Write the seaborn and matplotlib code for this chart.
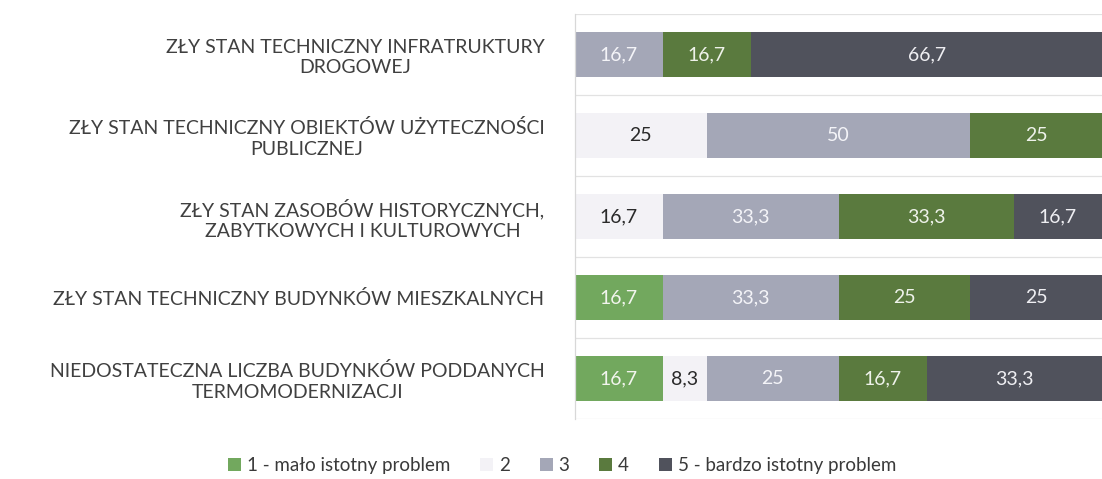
import numpy as np
import pandas as pd
import matplotlib
matplotlib.use("Agg")
import matplotlib.pyplot as plt
import seaborn as sns
from matplotlib.patches import Patch

categories = [
    "ZŁY STAN TECHNICZNY INFRATRUKTURY\nDROGOWEJ",
    "ZŁY STAN TECHNICZNY OBIEKTÓW UŻYTECZNOŚCI\nPUBLICZNEJ",
    "ZŁY STAN ZASOBÓW HISTORYCZNYCH,\nZABYTKOWYCH I KULTUROWYCH",
    "ZŁY STAN TECHNICZNY BUDYNKÓW MIESZKALNYCH",
    "NIEDOSTATECZNA LICZBA BUDYNKÓW PODDANYCH\nTERMOMODERNIZACJI",
]
series_names = ["1 - mało istotny problem", "2", "3", "4", "5 - bardzo istotny problem"]
s1 = [0, 0, 0, 16.7, 16.7]
s2 = [0, 25, 16.7, 0, 8.3]
s3 = [16.7, 50, 33.3, 33.3, 25]
s4 = [16.7, 25, 33.3, 25, 16.7]
s5 = [66.7, 0, 16.7, 25, 33.3]
series = [s1, s2, s3, s4, s5]

colors = ["#72a85e", "#f3f2f6", "#a4a7b7", "#5a7a3e", "#50525c"]
label_colors = ["#f2f5ee", "#2a2a2a", "#f4f4f8", "#eef2ea", "#eeeef2"]

sns.set_theme(style="white")
plt.rcParams["font.family"] = ["Lato", "DejaVu Sans"]

fig = plt.figure(figsize=(11.02, 4.79), dpi=100)
ax = fig.add_axes([0.5218, 0.1253, 0.4782, 0.8455])

data = np.array(series)
cum = np.cumsum(data, axis=0)
df = pd.DataFrame({"cat": categories})

# stacked bars: draw cumulative totals from the last series to the first
for i in range(len(series) - 1, -1, -1):
    df["val"] = cum[i]
    sns.barplot(data=df, x="val", y="cat", orient="h", color=colors[i],
                width=0.56, ax=ax, saturation=1, linewidth=0)

# value labels
for i, vals in enumerate(series):
    for j, v in enumerate(vals):
        if v <= 0:
            continue
        start = cum[i][j] - v
        txt = f"{v:g}".replace(".", ",")
        ax.text(start + v / 2, j, txt, ha="center", va="center",
                fontsize=14, color=label_colors[i])

ax.set_xlim(0, 100)
ax.set_ylim(4.5, -0.5)
ax.set_xlabel("")
ax.set_ylabel("")
ax.set_xticks([])
for y in np.arange(-0.5, 5, 1):
    ax.axhline(y, color="#e2e2e2", lw=0.9, zorder=0)
for s in ["top", "right", "bottom"]:
    ax.spines[s].set_visible(False)
ax.spines["left"].set_color("#d8d8d8")
ax.spines["left"].set_linewidth(0.9)

ax.tick_params(axis="y", length=0, pad=22)
for lbl in ax.get_yticklabels():
    lbl.set_fontsize(14)
    lbl.set_color("#404040")
    lbl.set_multialignment("center")
    lbl.set_linespacing(1.25)

handles = [Patch(facecolor=c, edgecolor="none") for c in colors]
fig.legend(handles, series_names, loc="center", bbox_to_anchor=(0.51, 0.028),
           ncol=5, frameon=False, fontsize=13.5, handlelength=0.7, handleheight=0.7,
           handletextpad=0.3, columnspacing=1.6, labelcolor="#3a3a3a")

fig.savefig("out.png", dpi=100, facecolor="white")
